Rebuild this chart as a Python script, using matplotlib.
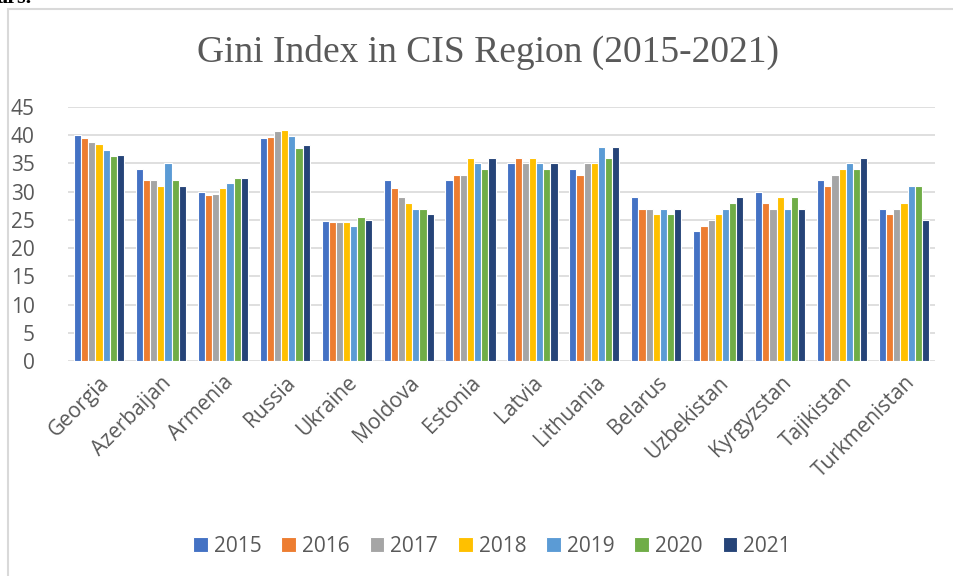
import numpy as np
import matplotlib
matplotlib.use("Agg")
import matplotlib.pyplot as plt
from matplotlib.patches import Rectangle

countries = ["Georgia", "Azerbaijan", "Armenia", "Russia", "Ukraine", "Moldova",
             "Estonia", "Latvia", "Lithuania", "Belarus", "Uzbekistan",
             "Kyrgyzstan", "Tajikistan", "Turkmenistan"]
years = ["2015", "2016", "2017", "2018", "2019", "2020", "2021"]

gini_2015 = [40.1, 34, 30.0, 39.5, 24.8, 32.1, 32, 35, 34, 29, 23, 30, 32, 27]
gini_2016 = [39.5, 32, 29.4, 39.7, 24.7, 30.6, 33, 36, 33, 27, 24, 28, 31, 26]
gini_2017 = [38.8, 32, 29.6, 40.7, 24.7, 29.0, 33, 35, 35, 27, 25, 27, 33, 27]
gini_2018 = [38.4, 31, 30.6, 41.0, 24.7, 28.0, 36, 36, 35, 26, 26, 29, 34, 28]
gini_2019 = [37.3, 35, 31.5, 39.9, 24.0, 27.0, 35, 35, 38, 27, 27, 27, 35, 31]
gini_2020 = [36.4, 32, 32.4, 37.7, 25.5, 27.0, 34, 34, 36, 26, 28, 29, 34, 31]
gini_2021 = [36.5, 31, 32.4, 38.3, 25.0, 26.0, 36, 35, 38, 27, 29, 27, 36, 25]

series = [gini_2015, gini_2016, gini_2017, gini_2018, gini_2019, gini_2020, gini_2021]
colors = ["#4472C4", "#ED7D31", "#A5A5A5", "#FFC000", "#5B9BD5", "#70AD47", "#264478"]

W, H = 954, 576
fig = plt.figure(figsize=(W / 100, H / 100), dpi=100)

# chart frame (cut off on the right / bottom like the source screenshot)
fig.patches.append(Rectangle((8 / W, -0.1), 1.2, 1 - 9 / H + 0.1,
                             transform=fig.transFigure, fill=False,
                             edgecolor="#d9d9d9", linewidth=1.5))
# bottom of the line of text above the chart in the source page
fig.text(-0.004, 1 - 3 / H, "ars.", fontsize=16, fontweight="bold",
         family="Liberation Serif", va="baseline", ha="left")

ax = fig.add_axes([68 / W, 1 - 361 / H, (935 - 68) / W, (361 - 107) / H])

x = np.arange(len(countries))
n = len(series)
slot = 0.81 / n
for i, (vals, col, yr) in enumerate(zip(series, colors, years)):
    ax.bar(x + (i - (n - 1) / 2) * slot, vals, width=slot, color=col,
           edgecolor="white", linewidth=0.8, label=yr, zorder=3)

ax.set_xlim(-0.5, len(countries) - 0.5)
ax.set_ylim(0, 45)
ax.set_yticks(np.arange(0, 46, 5))
ax.yaxis.grid(True, color="#d9d9d9", linewidth=1.2, zorder=0)
ax.set_axisbelow(True)
for s in ax.spines.values():
    s.set_visible(False)
ax.tick_params(axis="y", length=0, pad=24, labelsize=15, labelcolor="#595959")
ax.tick_params(axis="x", length=0, pad=8, labelsize=15, labelcolor="#595959")
ax.set_xticks(x)
ax.set_xticklabels(countries, rotation=45, ha="right", rotation_mode="anchor")
for lab in ax.get_xticklabels() + ax.get_yticklabels():
    lab.set_family("Open Sans")

fig.text(488 / W, 1 - 52 / H, "Gini Index in CIS Region (2015-2021)",
         family="Liberation Serif", fontsize=27, color="#595959",
         ha="center", va="center")

leg = fig.legend(loc="center", bbox_to_anchor=(492 / W, 1 - 546 / H), ncol=7,
                 frameon=False, handlelength=0.7, handleheight=0.7,
                 handletextpad=0.3, columnspacing=0.95,
                 prop={"family": "Open Sans", "size": 15})
for t in leg.get_texts():
    t.set_color("#595959")

fig.savefig("out.png", dpi=100, facecolor="white")
